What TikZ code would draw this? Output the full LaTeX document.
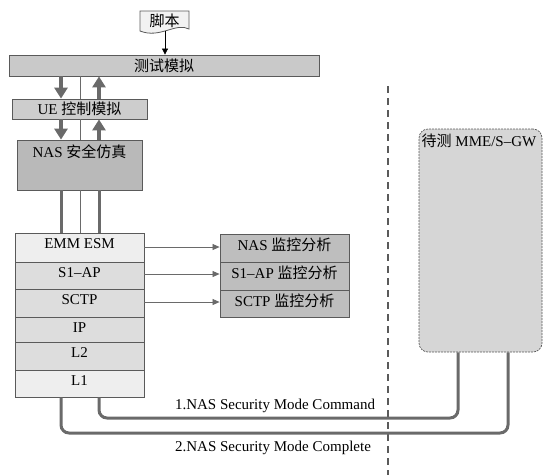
\documentclass[tikz,border=0pt]{standalone}
\usepackage{fontspec}
\setmainfont{Liberation Serif}
\newfontfamily\cjk{Noto Sans CJK SC}
\usetikzlibrary{arrows.meta}
\definecolor{bordergray}{HTML}{5A5A5A}
\definecolor{testfill}{HTML}{C9C9C9}
\definecolor{uefill}{HTML}{CDCDCD}
\definecolor{nasfill}{HTML}{B9B9B9}
\definecolor{rowlight}{HTML}{EEEEEE}
\definecolor{rowdark}{HTML}{DDDDDD}
\definecolor{monfill}{HTML}{BEBEBE}
\definecolor{mmefill}{HTML}{D6D6D6}
\definecolor{pipegray}{HTML}{6A6A6A}
\definecolor{scriptfill}{HTML}{F2F2F2}
\begin{document}
\begin{tikzpicture}[x=1pt,y=-1pt,
  font=\fontsize{15}{17}\selectfont,
  box/.style={draw=bordergray, line width=0.8pt, inner sep=0pt},
  rowbox/.style={box, minimum width=129pt, text height=15pt},
  monbox/.style={box, fill=monfill, minimum width=129pt, text height=16pt},
  bigarrow/.style={draw=pipegray, line width=4pt, -{Triangle[length=11pt,width=13pt]}},
  pipe/.style={draw=pipegray, line width=3pt},
  thinline/.style={draw=pipegray, line width=0.8pt},
  monarrow/.style={draw=pipegray, line width=0.7pt, -{Triangle[length=7pt,width=6pt]}},
  divider/.style={draw=bordergray, line width=1.2pt, dash pattern=on 7pt off 5pt},
  msg/.style={inner sep=1pt}]
\useasboundingbox (0,0) rectangle (543,475);

% column coordinates
\coordinate (xL) at (61,0);
\coordinate (xM) at (80,0);
\coordinate (xR) at (99,0);

% script document
\draw[box, fill=scriptfill] (140,11) -- (189,11) -- (189,29)
  .. controls (176,22) and (160,39) .. (140,31) -- cycle;
\node (script) at (164.5,20.5) {\cjk 脚本};
\coordinate (scriptb) at (165,31);

% test simulation bar
\node[box, fill=testfill, minimum width=310pt, minimum height=21pt] (test) at (164,65.5) {\cjk 测试模拟};
\draw[draw=black, line width=0.7pt, -{Triangle[length=6pt,width=6pt]}] (scriptb) -- (test.north -| scriptb);

% UE control
\node[box, fill=uefill, minimum width=135pt, minimum height=20pt] (ue) at (79.5,109) {UE {\cjk 控制模拟}};

% NAS security
\node[box, fill=nasfill, minimum width=125pt, text height=17pt, text depth=33pt] (nas) at (79.5,165) {NAS {\cjk 安全仿真}};

% protocol stack
\node[rowbox, fill=rowlight, text depth=14pt] (emm) at (79.5,247.5) {EMM ESM};
\node[rowbox, fill=rowdark, text depth=12pt] (s1ap) at (79.5,275.5) {S1–AP};
\node[rowbox, fill=rowdark, text depth=13pt] (sctp) at (79.5,303) {SCTP};
\node[rowbox, fill=rowdark, text depth=10pt] (ip) at (79.5,329.5) {IP};
\node[rowbox, fill=rowdark, text depth=13pt] (l2) at (79.5,356) {L2};
\node[rowbox, fill=rowlight, text depth=12pt] (l1) at (79.5,383.5) {L1};

% monitors
\node[monbox, text depth=12pt] (mnas) at (284.5,248) {NAS {\cjk 监控分析}};
\node[monbox, text depth=12pt] (ms1) at (284.5,276) {S1–AP {\cjk 监控分析}};
\node[monbox, text depth=11pt] (msctp) at (284.5,303.5) {SCTP {\cjk 监控分析}};

\draw[monarrow] (emm.east |- 0,247) coordinate (a1) -- (mnas.west |- a1);
\draw[monarrow] (s1ap.east |- 0,274) coordinate (a2) -- (ms1.west |- a2);
\draw[monarrow] (sctp.east |- 0,302) coordinate (a3) -- (msctp.west |- a3);

% vertical arrows
\draw[bigarrow] (test.south -| xL) -- (ue.north -| xL);
\draw[bigarrow] (ue.north -| xR) -- (test.south -| xR);
\draw[thinline] (test.south -| xM) -- (ue.north -| xM);
\draw[bigarrow] (ue.south -| xL) -- (nas.north -| xL);
\draw[bigarrow] (nas.north -| xR) -- (ue.south -| xR);
\draw[thinline] (ue.south -| xM) -- (nas.north -| xM);
\draw[pipe] (nas.south -| xL) -- (emm.north -| xL);
\draw[pipe] (nas.south -| xR) -- (emm.north -| xR);
\draw[thinline] (nas.south -| xM) -- (emm.north -| xM);

% divider
\coordinate (dtop) at (388,86);
\coordinate (dbot) at (388,475);
\draw[divider] (dtop) -- (dbot);

% MME / S-GW
\node[draw=bordergray, line width=0.7pt, dash pattern=on 2pt off 1pt, rounded corners=9pt, fill=mmefill,
      minimum width=123pt, minimum height=223pt] (mme) at (480.5,240.5) {};
\node[anchor=north west, inner sep=1pt] (mmet) at (420.5,133) {{\cjk 待测} MME/S–GW};

% message pipes
\coordinate (c1) at (458,418);
\coordinate (c2) at (508,433);
\draw[pipe, rounded corners=8pt] (l1.south -| xR) |- (c1) -- (mme.south -| c1);
\draw[pipe, rounded corners=8pt] (l1.south -| xL) |- (c2) -- (mme.south -| c2);

\node[msg] (m1) at (275,405.5) {1.NAS Security Mode Command};
\node[msg] (m2) at (273,448) {2.NAS Security Mode Complete};
\end{tikzpicture}
\end{document}
